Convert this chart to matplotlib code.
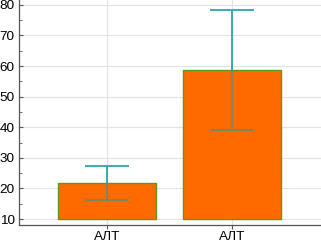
import numpy as np
from matplotlib import pyplot as plt
from matplotlib.ticker import MultipleLocator

categories = ['АЛТ', 'АЛТ']
means = [21.8, 58.7]
errors = [5.5, 19.6]
base = 10

plt.rcParams['font.family'] = ['Liberation Sans', 'DejaVu Sans']

fig = plt.figure(figsize=(3.21, 2.41), dpi=100)
ax = fig.add_axes([19 / 321, 16 / 241, 302 / 321, 225 / 241])

x = np.arange(len(categories))
heights = [m - base for m in means]
bars = ax.bar(x, heights, bottom=base, width=0.79, color='#ff6a00',
              edgecolor='#5c9a10', linewidth=1.0, zorder=2)

# teal part of the error bars (visible above the bars)
ax.errorbar(x, means, yerr=errors, fmt='none', ecolor='#2aa8a8',
            elinewidth=1.3, capsize=15.5, capthick=1.3, zorder=1.5)
# darker part where the error bar lies over the bar fill
for i, rect in enumerate(bars):
    eb = ax.errorbar(x[i], means[i], yerr=errors[i], fmt='none',
                     ecolor='#6f8a6a', elinewidth=1.3, capsize=15.5,
                     capthick=1.3, zorder=3)
    for artist in eb.lines[1] + eb.lines[2]:
        artist.set_clip_path(rect)
    for artist in eb.lines[2]:
        artist.set_clip_path(rect)

ax.set_xlim(-0.704, 1.712)
ax.set_ylim(8.04, 81.6)
ax.set_xticks(x)
ax.set_xticklabels(categories)
ax.yaxis.set_major_locator(MultipleLocator(10))
ax.yaxis.set_minor_locator(MultipleLocator(5))

ax.grid(True, color='#e4e4e4', linewidth=0.9, zorder=0)
ax.set_axisbelow(True)

for side in ['top', 'right']:
    ax.spines[side].set_visible(False)
for side in ['left', 'bottom']:
    ax.spines[side].set_color('#555555')
    ax.spines[side].set_linewidth(0.9)

ax.tick_params(axis='y', direction='in', length=3, width=0.8, color='#555555',
               labelsize=9.7, pad=3)
ax.tick_params(axis='y', which='minor', direction='in', length=2, width=0.6,
               color='#555555')
ax.tick_params(axis='x', direction='out', length=3, width=0.8, color='#555555',
               labelsize=9.7, pad=1.5)

fig.savefig('out.png', dpi=100)
